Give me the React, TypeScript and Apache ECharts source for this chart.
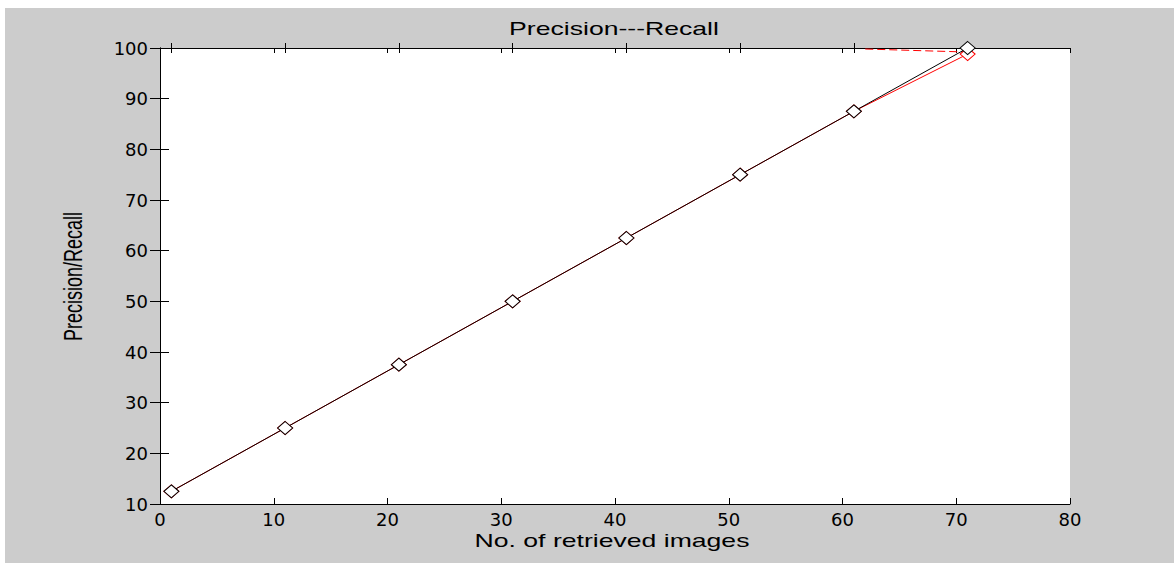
import React, { useEffect, useRef } from "react";
import * as echarts from "echarts";

const retrievedImages = [1, 11, 21, 31, 41, 51, 61, 71];
const precisionValues = [12.5, 25, 37.5, 50, 62.5, 75, 87.5, 100];
const recallValues = [12.5, 25, 37.5, 50, 62.5, 75, 87.5, 98.8];
const dashedX = [62, 71];
const dashedY = [99.8, 99.2];
const shiftedTopTicks = [1, 11, 21, 31, 41, 51, 61, 71];

const titleText = "Precision---Recall";
const xName = "No. of retrieved images";
const yName = "Precision/Recall";

export default function App() {
  const ref = useRef<HTMLDivElement>(null);

  useEffect(() => {
    if (!ref.current) return;
    const chart = echarts.init(ref.current, null, { renderer: "svg" });

    const tickFont = { fontFamily: "DejaVu Sans", fontSize: 18, color: "#000" };
    const axisLine = { show: true, lineStyle: { color: "#000", width: 1 } };

    const topBase = {
      type: "value" as const,
      position: "top" as const,
      min: 0,
      max: 80,
      interval: 10,
      axisLabel: { show: false },
      splitLine: { show: false },
    };

    chart.setOption({
      animation: false,
      backgroundColor: "transparent",
      grid: {
        left: 160,
        right: 104,
        top: 48,
        bottom: 59,
        show: true,
        backgroundColor: "#ffffff",
        borderWidth: 0,
      },
      graphic: [
        {
          type: "text",
          x: 614,
          y: 28.5,
          scaleX: 1.4,
          style: {
            text: titleText,
            fontFamily: "Liberation Sans",
            fontSize: 19,
            fill: "#000",
            align: "center",
            verticalAlign: "middle",
          },
        },
        {
          type: "text",
          x: 612,
          y: 540.5,
          scaleX: 1.4,
          style: {
            text: xName,
            fontFamily: "Liberation Sans",
            fontSize: 19,
            fill: "#000",
            align: "center",
            verticalAlign: "middle",
          },
        },
        {
          type: "text",
          x: 73,
          y: 276.5,
          rotation: Math.PI / 2,
          scaleY: 1.4,
          style: {
            text: yName,
            fontFamily: "Liberation Sans",
            fontSize: 18,
            fill: "#000",
            align: "center",
            verticalAlign: "middle",
          },
        },
      ],
      xAxis: [
        {
          type: "value",
          position: "bottom",
          min: 0,
          max: 80,
          interval: 10,
          axisLine,
          axisTick: { show: true, inside: true, length: 6, lineStyle: { color: "#000" } },
          axisLabel: { ...tickFont, margin: 6 },
          splitLine: { show: false },
        },
        {
          ...topBase,
          axisLine,
          axisTick: { show: true, inside: true, length: 5, lineStyle: { color: "#000" } },
        },
        {
          ...topBase,
          axisLine: { show: false },
          axisTick: {
            show: true,
            inside: true,
            length: 5,
            customValues: shiftedTopTicks,
            lineStyle: { color: "#000" },
          },
        },
        {
          ...topBase,
          axisLine: { show: false },
          axisTick: {
            show: true,
            inside: false,
            length: 5,
            customValues: shiftedTopTicks,
            lineStyle: { color: "#000" },
          },
        },
      ],
      yAxis: [
        {
          type: "value",
          position: "left",
          min: 10,
          max: 100,
          interval: 10,
          axisLine,
          axisTick: { show: true, inside: true, length: 9, lineStyle: { color: "#000" } },
          axisLabel: { ...tickFont, margin: 12 },
          splitLine: { show: false },
        },
        {
          type: "value",
          position: "right",
          min: 10,
          max: 100,
          interval: 10,
          axisLine,
          axisTick: { show: true, inside: true, length: 10, lineStyle: { color: "#000" } },
          axisLabel: { show: false },
          splitLine: { show: false },
        },
      ],
      series: [
        {
          type: "line",
          name: "Recall",
          xAxisIndex: 0,
          yAxisIndex: 0,
          data: retrievedImages.map((x, i) => [x, recallValues[i]]),
          symbol: "diamond",
          symbolSize: [15, 13],
          showAllSymbol: true,
          lineStyle: { color: "#ff0000", width: 1 },
          itemStyle: { color: "#ffffff", borderColor: "#ff0000", borderWidth: 1 },
          z: 2,
        },
        {
          type: "line",
          name: "RecallDashed",
          xAxisIndex: 0,
          yAxisIndex: 0,
          data: dashedX.map((x, i) => [x, dashedY[i]]),
          symbol: "none",
          lineStyle: { color: "#ff0000", width: 1, type: [8, 4] },
          z: 2,
        },
        {
          type: "line",
          name: "Precision",
          xAxisIndex: 0,
          yAxisIndex: 0,
          data: retrievedImages.map((x, i) => [x, precisionValues[i]]),
          symbol: "diamond",
          symbolSize: [15, 13],
          showAllSymbol: true,
          lineStyle: { color: "#000000", width: 1 },
          itemStyle: { color: "#ffffff", borderColor: "#000000", borderWidth: 1 },
          z: 3,
        },
      ],
    });

    return () => chart.dispose();
  }, []);

  return (
    <div style={{ position: "fixed", left: 0, top: 0, width: 1174, height: 563, background: "#ffffff" }}>
      <div style={{ position: "absolute", left: 5, top: 8, right: 0, bottom: 0, background: "#cccccc" }} />
      <div ref={ref} style={{ position: "absolute", left: 0, top: 0, width: 1174, height: 563 }} />
    </div>
  );
}
